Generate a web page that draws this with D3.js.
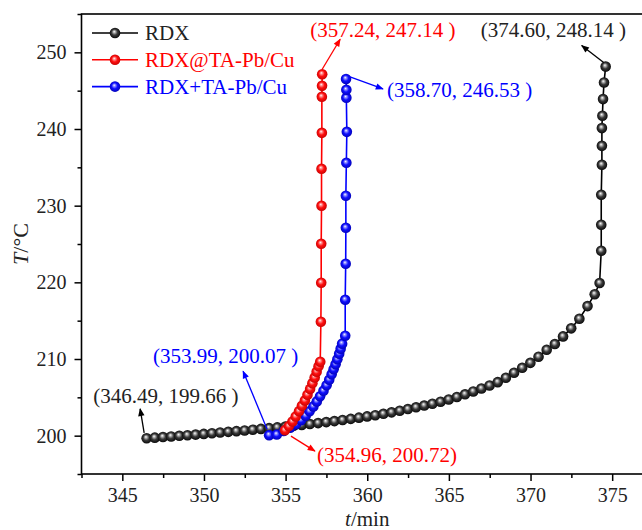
<!DOCTYPE html>
<html>
<head>
<meta charset="utf-8">
<script src="https://cdn.jsdelivr.net/npm/d3@7"></script>
<style>
  body { margin: 0; background: #fff; }
  svg { display: block; overflow: hidden; }
  text { font-family: "Liberation Serif", "Times New Roman", serif; }
</style>
</head>
<body>
<svg id="chart"></svg>
<script>
// RDX
const rdxTime = [346.49, 346.99, 347.49, 347.99, 348.49, 348.99, 349.49, 349.99, 350.49, 350.99,
    351.49, 351.99, 352.49, 352.99, 353.49, 353.99, 354.49, 354.99, 355.49, 355.99,
    356.49, 356.99, 357.49, 357.99, 358.49, 358.99, 359.49, 359.99, 360.49, 360.99,
    361.49, 361.99, 362.49, 362.99, 363.49, 363.99, 364.49, 364.99, 365.49, 365.99,
    366.49, 366.99, 367.49, 367.99, 368.49, 368.99, 369.49, 369.99, 370.49, 370.99,
    371.49, 371.99, 372.49, 372.99, 373.49, 373.93, 374.23, 374.33, 374.33, 374.33,
    374.37, 374.37, 374.37, 374.40, 374.44, 374.50, 374.60];
const rdxTemp = [199.66, 199.74, 199.82, 199.90, 199.98, 200.06, 200.14, 200.23, 200.32, 200.41,
    200.50, 200.59, 200.68, 200.78, 200.88, 200.98, 201.08, 201.18, 201.29, 201.40,
    201.52, 201.64, 201.77, 201.90, 202.04, 202.19, 202.35, 202.51, 202.67, 202.85,
    203.04, 203.25, 203.47, 203.70, 203.93, 204.17, 204.43, 204.72, 205.05, 205.40,
    205.77, 206.15, 206.55, 206.98, 207.55, 208.20, 208.85, 209.50, 210.30, 211.20,
    211.95, 212.95, 214.00, 215.25, 216.90, 218.45, 219.91, 224.12, 227.51, 231.42,
    235.33, 237.80, 240.12, 241.72, 243.90, 246.06, 248.14];

// RDX@TA-Pb/Cu
const atTime = [354.96, 355.20, 355.42, 355.62, 355.82, 356.00, 356.18, 356.34, 356.50, 356.64,
    356.78, 356.90, 357.02, 357.12, 357.16, 357.18, 357.18, 357.20, 357.20, 357.22,
    357.22, 357.23, 357.24];
const atTemp = [200.72, 201.25, 201.85, 202.50, 203.20, 203.90, 204.60, 205.35, 206.10, 206.85,
    207.60, 208.35, 209.05, 209.65, 214.86, 219.95, 225.03, 229.99, 234.81, 239.50,
    244.20, 245.63, 247.14];

// RDX+TA-Pb/Cu
const plusTime = [353.99, 354.46, 354.88, 355.28, 355.64, 355.95, 356.23, 356.47, 356.70, 356.91,
    357.11, 357.32, 357.51, 357.67, 357.82, 357.94, 358.06, 358.17, 358.28, 358.37,
    358.46, 358.65, 358.65, 358.68, 358.69, 358.69, 358.72, 358.75, 358.72, 358.72,
    358.70];
const plusTemp = [200.07, 200.15, 200.60, 201.04, 201.50, 202.02, 202.61, 203.19, 203.82, 204.47,
    205.15, 205.87, 206.58, 207.30, 208.02, 208.67, 209.32, 209.97, 210.69, 211.34,
    212.00, 213.04, 217.73, 222.43, 227.12, 231.29, 235.59, 239.63, 244.07, 245.11,
    246.53];

const seriesNames = ["RDX", "RDX@TA-Pb/Cu", "RDX+TA-Pb/Cu"];
const xMajorTicks = [345, 350, 355, 360, 365, 370, 375];
const xMinorTicks = [342.5, 347.5, 352.5, 357.5, 362.5, 367.5, 372.5, 377.5];
const yMajorTicks = [200, 210, 220, 230, 240, 250];
const yMinorTicks = [195, 205, 215, 225, 235, 245, 255];

// labels on the end points: series index, first/last point, text
const labelSeries = [1, 0, 2, 2, 0, 1];
const labelEnd = ["last", "last", "last", "first", "first", "first"];
const labelText = ["(357.24, 247.14 )", "(374.60, 248.14 )", "(358.70, 246.53 )",
    "(353.99, 200.07 )", "(346.49, 199.66 )", "(354.96, 200.72)"];

const width = 642, height = 530;
const margin = {top: 14, right: -11, bottom: 56, left: 81.5};
const colors = ["#000000", "#ff0000", "#0000ff"];

// pixel offsets of arrow start, arrow tip and text, from the labelled point
const labelLayout = [
    {a: [0, -5], b: [18, -35], t: [-12, -37]},
    {a: [-2, -4], b: [-24, -21], t: [-125, -30]},
    {a: [4, -2], b: [37, 10], t: [41, 18]},
    {a: [-2, -6], b: [-26, -64], t: [-116, -72]},
    {a: [-2.5, -5.5], b: [-6.5, -29.5], t: [-53.5, -35.5]},
    {a: [6, 6], b: [30, 21], t: [32, 31.5]}
];

const svg = d3.select("#chart")
    .attr("width", width)
    .attr("height", height);

const x = d3.scaleLinear()
    .domain([342.5, 377.5])
    .range([margin.left, width - margin.right]);
const y = d3.scaleLinear()
    .domain([195, 255])
    .range([height - margin.bottom, margin.top]);

const series = [
    {name: seriesNames[0], pts: rdxTime.map((t, i) => ({t: t, T: rdxTemp[i]}))},
    {name: seriesNames[1], pts: atTime.map((t, i) => ({t: t, T: atTemp[i]}))},
    {name: seriesNames[2], pts: plusTime.map((t, i) => ({t: t, T: plusTemp[i]}))}
];

// shiny ball gradients
const defs = svg.append("defs");
const ballStops = [
    [["0%", "#ffffff"], ["18%", "#b8b8b8"], ["50%", "#3a3a3a"], ["100%", "#000000"]],
    [["0%", "#ffffff"], ["18%", "#ff9a9a"], ["50%", "#ff1010"], ["100%", "#c00000"]],
    [["0%", "#ffffff"], ["18%", "#9a9aff"], ["50%", "#1010ff"], ["100%", "#0000b0"]]
];
ballStops.forEach((stops, i) => {
    const g = defs.append("radialGradient")
        .attr("id", "ball" + i)
        .attr("cx", "0.5").attr("cy", "0.5").attr("r", "0.55")
        .attr("fx", "0.42").attr("fy", "0.36");
    stops.forEach(s => g.append("stop").attr("offset", s[0]).attr("stop-color", s[1]));
});
colors.forEach((c, i) => {
    defs.append("marker")
        .attr("id", "arrow" + i)
        .attr("viewBox", "0 -5 10 10")
        .attr("refX", 9)
        .attr("refY", 0)
        .attr("orient", "auto")
        .attr("markerUnits", "userSpaceOnUse")
        .attr("markerWidth", 10)
        .attr("markerHeight", 8)
        .append("path")
        .attr("d", "M 0,-4 L 10,0 L 0,4 Z")
        .attr("fill", c);
});

// axes
svg.append("g")
    .attr("transform", `translate(0, ${height - margin.bottom})`)
    .call(d3.axisBottom(x).tickValues(xMajorTicks).tickSize(7).tickPadding(7).tickSizeOuter(0)
        .tickFormat(d3.format("d")));
svg.append("g")
    .attr("transform", `translate(0, ${height - margin.bottom})`)
    .call(d3.axisBottom(x).tickValues(xMinorTicks).tickSize(4).tickFormat("").tickSizeOuter(0));
svg.append("g")
    .attr("transform", `translate(${margin.left}, 0)`)
    .call(d3.axisLeft(y).tickValues(yMajorTicks).tickSize(7).tickPadding(8).tickSizeOuter(0));
svg.append("g")
    .attr("transform", `translate(${margin.left}, 0)`)
    .call(d3.axisLeft(y).tickValues(yMinorTicks).tickSize(4).tickFormat("").tickSizeOuter(0));

svg.selectAll(".domain").remove();
svg.selectAll(".tick line").attr("stroke", "#000").attr("stroke-width", 1.5);
svg.selectAll(".tick text")
    .attr("font-family", "Liberation Serif")
    .attr("font-size", 20)
    .attr("fill", "#222");

svg.append("rect")
    .attr("x", margin.left)
    .attr("y", margin.top)
    .attr("width", x.range()[1] - margin.left)
    .attr("height", y.range()[0] - margin.top)
    .attr("fill", "none")
    .attr("stroke", "#000")
    .attr("stroke-width", 1.6);

// axis titles
const xTitle = svg.append("text")
    .attr("x", (x.range()[0] + x.range()[1]) / 2)
    .attr("y", 525.5)
    .attr("text-anchor", "middle")
    .attr("font-size", 21)
    .attr("fill", "#222");
xTitle.append("tspan").attr("font-style", "italic").text("t");
xTitle.append("tspan").text("/min");

const yTitle = svg.append("text")
    .attr("transform", `translate(28, ${(y.range()[0] + y.range()[1]) / 2}) rotate(-90)`)
    .attr("text-anchor", "middle")
    .attr("font-size", 22)
    .attr("fill", "#222");
yTitle.append("tspan").attr("font-style", "italic").text("T");
yTitle.append("tspan").text("/\u00b0C");

// data lines and balls, drawn black, blue, red
const line = d3.line()
    .x(d => x(d.t))
    .y(d => y(d.T));
const drawOrder = [0, 2, 1];
drawOrder.forEach(i => {
    const s = series[i];
    const g = svg.append("g").attr("class", "series");
    g.append("path")
        .attr("d", line(s.pts))
        .attr("fill", "none")
        .attr("stroke", colors[i])
        .attr("stroke-width", 1.6);
    g.selectAll("circle")
        .data(s.pts)
        .join("circle")
        .attr("cx", d => x(d.t))
        .attr("cy", d => y(d.T))
        .attr("r", 5.3)
        .attr("fill", `url(#ball${i})`);
});

// point labels with arrows
labelText.forEach((txt, k) => {
    const s = series[labelSeries[k]];
    const p = labelEnd[k] === "first" ? s.pts[0] : s.pts[s.pts.length - 1];
    const px = x(p.t), py = y(p.T);
    const L = labelLayout[k];
    const c = colors[labelSeries[k]];
    svg.append("line")
        .attr("x1", px + L.a[0]).attr("y1", py + L.a[1])
        .attr("x2", px + L.b[0]).attr("y2", py + L.b[1])
        .attr("stroke", c)
        .attr("stroke-width", 1.3)
        .attr("marker-end", `url(#arrow${labelSeries[k]})`);
    svg.append("text")
        .attr("x", px + L.t[0])
        .attr("y", py + L.t[1])
        .attr("font-size", 21)
        .attr("fill", c === "#000000" ? "#222" : c)
        .text(txt);
});

// legend
const legend_g = svg.append("g").attr("transform", "translate(92, 33)");
seriesNames.forEach((name, i) => {
    const row = legend_g.append("g").attr("transform", `translate(0, ${i * 26.8})`);
    row.append("line")
        .attr("x1", 0).attr("x2", 46)
        .attr("stroke", colors[i])
        .attr("stroke-width", 1.6);
    row.append("circle")
        .attr("cx", 23)
        .attr("r", 5.3)
        .attr("fill", `url(#ball${i})`);
    row.append("text")
        .attr("x", 53)
        .attr("y", 7)
        .attr("font-size", 21)
        .attr("fill", i === 0 ? "#222" : colors[i])
        .text(name);
});
</script>
</body>
</html>
